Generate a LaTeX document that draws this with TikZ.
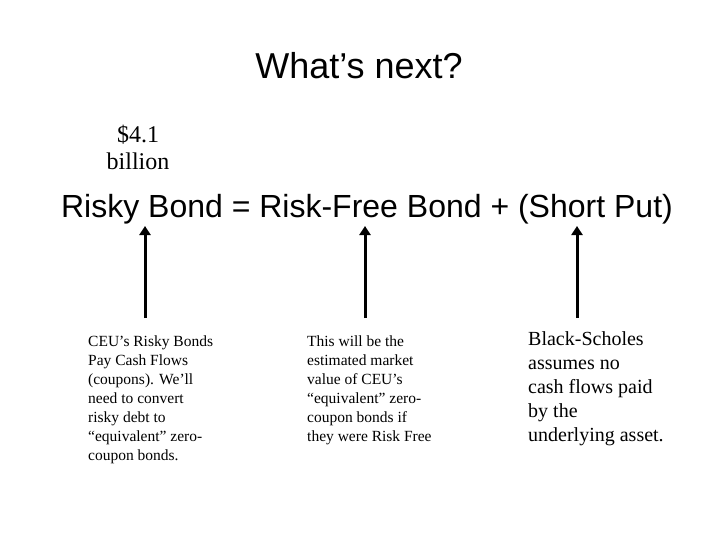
\documentclass[tikz,border=0pt]{standalone}
\usepackage{fontspec}
\setmainfont{Liberation Serif}
\setsansfont{Liberation Sans}
\usetikzlibrary{arrows.meta}
\begin{document}
\begin{tikzpicture}[x=1pt,y=-1pt,
  note/.style={font=\fontsize{15.5}{19}\selectfont, align=left, anchor=north west, inner sep=0pt},
  bignote/.style={font=\fontsize{20}{24}\selectfont, align=left, anchor=north west, inner sep=0pt},
  up/.style={line width=3pt, -{Triangle[length=9pt,width=11pt]}}]
\useasboundingbox (0,0) rectangle (720,540);
\node[font=\sffamily\fontsize{36}{40}\selectfont] (title) at (359,66) {What’s next?};
\node[font=\fontsize{24}{27}\selectfont, align=center] (amt) at (138,147) {\$4.1\\billion};
\node[font=\sffamily\fontsize{32}{36}\selectfont] (eq) at (367,209) {Risky Bond = Risk-Free Bond + (Short Put)};
\node[note] (n1) at (88,336) {CEU’s Risky Bonds\\Pay Cash Flows\\(coupons). We’ll\\need to convert\\risky debt to\\“equivalent” zero-\\coupon bonds.};
\node[note] (n2) at (307,336) {This will be the\\estimated market\\value of CEU’s\\“equivalent” zero-\\coupon bonds if\\they were Risk Free};
\node[bignote] (n3) at (528,331) {Black-Scholes\\assumes no\\cash flows paid\\by the\\underlying asset.};
\coordinate (a1s) at (145,318); \coordinate (a1e) at (145,226);
\coordinate (a2s) at (365,318); \coordinate (a2e) at (365,226);
\coordinate (a3s) at (577,318); \coordinate (a3e) at (577,226);
\draw[up] (a1s) -- (a1e);
\draw[up] (a2s) -- (a2e);
\draw[up] (a3s) -- (a3e);
\end{tikzpicture}
\end{document}
